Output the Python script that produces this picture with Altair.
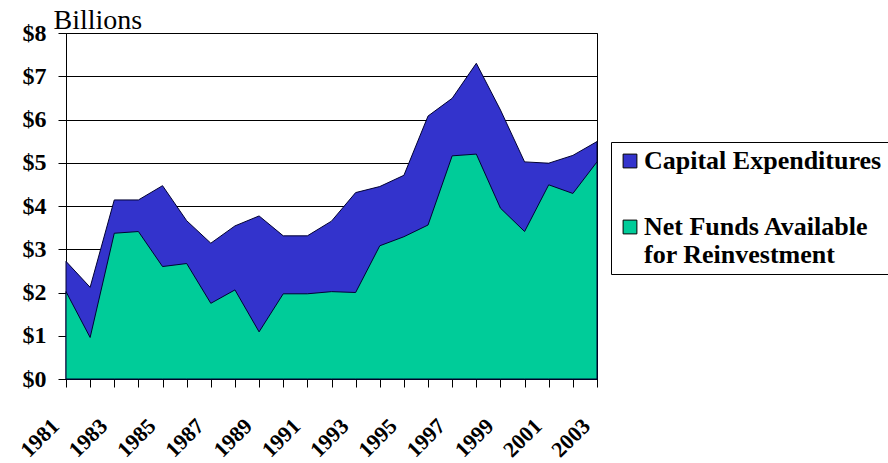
import altair as alt
import pandas as pd

years = list(range(1981, 2004))
capital_expenditures = [2.72, 2.12, 4.14, 4.14, 4.47, 3.66, 3.14, 3.54, 3.77, 3.31, 3.31, 3.65,
                        4.31, 4.45, 4.71, 6.08, 6.49, 7.30, 6.22, 5.02, 4.99, 5.17, 5.49]
net_funds = [2.02, 0.96, 3.37, 3.41, 2.60, 2.67, 1.75, 2.06, 1.09, 1.97, 1.97, 2.02,
             2.00, 3.08, 3.29, 3.56, 5.16, 5.20, 3.95, 3.41, 4.49, 4.29, 5.02]
series_names = ["Capital Expenditures", "Net Funds Available for Reinvestment"]
series_colors = ["#3333CC", "#00CC99"]
y_ticks = [0, 1, 2, 3, 4, 5, 6, 7, 8]

df = pd.DataFrame({
    "year": years * 2,
    "value": capital_expenditures + net_funds,
    "series": [series_names[0]] * len(years) + [series_names[1]] * len(years),
})

FONT = "'Liberation Serif', 'Times New Roman', serif"

color = alt.Color(
    "series:N",
    scale=alt.Scale(domain=series_names, range=series_colors),
    legend=alt.Legend(
        title=None,
        orient="none",
        legendX=545,
        legendY=109,
        symbolType="square",
        symbolSize=190,
        symbolStrokeColor="black",
        symbolStrokeWidth=1,
        symbolOpacity=1,
        labelFont=FONT,
        labelFontSize=26,
        labelFontWeight="bold",
        labelColor="black",
        labelLimit=400,
        labelOffset=1,
        labelExpr="datum.label == 'Net Funds Available for Reinvestment' ? ['Net Funds Available', 'for Reinvestment'] : datum.label",
        rowPadding=40,
        padding=6,
        strokeColor="black",
        fillColor="white",
    ),
)

x = alt.X(
    "year:Q",
    scale=alt.Scale(domain=[1981, 2003], nice=False, zero=False),
    axis=alt.Axis(
        title=None,
        values=years,
        labelExpr="datum.value % 2 == 1 ? datum.value + '' : ''",
        labelAngle=-45,
        labelAlign="right",
        labelBaseline="middle",
        labelFont=FONT,
        labelFontSize=22,
        labelFontWeight="bold",
        labelColor="black",
        labelPadding=35,
        labelOffset=-11,
        labelOverlap=False,
        tickSize=8,
        tickColor="black",
        domainColor="black",
        grid=False,
    ),
)

y = alt.Y(
    "value:Q",
    stack=None,
    scale=alt.Scale(domain=[0, 8], nice=False),
    axis=alt.Axis(
        title="Billions",
        titleAngle=0,
        titleAlign="left",
        titleBaseline="alphabetic",
        titleX=-13,
        titleY=-5,
        titleFont=FONT,
        titleFontSize=28,
        titleFontWeight="normal",
        titleColor="black",
        values=y_ticks,
        labelExpr="'$' + datum.value",
        labelFont=FONT,
        labelFontSize=24,
        labelFontWeight="bold",
        labelColor="black",
        labelPadding=12,
        tickSize=8,
        tickColor="black",
        domainColor="black",
        gridColor="black",
        gridWidth=1,
        gridOpacity=1,
    ),
)

base = alt.Chart(df)
cap = base.transform_filter(alt.datum.series == series_names[0]).mark_area(
    stroke="#000033", strokeWidth=1, opacity=1
).encode(x=x, y=y, color=color)
net = base.transform_filter(alt.datum.series == series_names[1]).mark_area(
    stroke="#000033", strokeWidth=1, opacity=1
).encode(x=x, y=y, color=color)

chart = alt.layer(cap, net).properties(
    width=531,
    height=346,
    autosize=alt.AutoSizeParams(type="none"),
    padding={"left": 66, "top": 33, "right": 291, "bottom": 84},
    background="white",
).configure_view(stroke="black", strokeWidth=1)

chart.save("out.html", embed_options={"renderer": "svg", "actions": False})
